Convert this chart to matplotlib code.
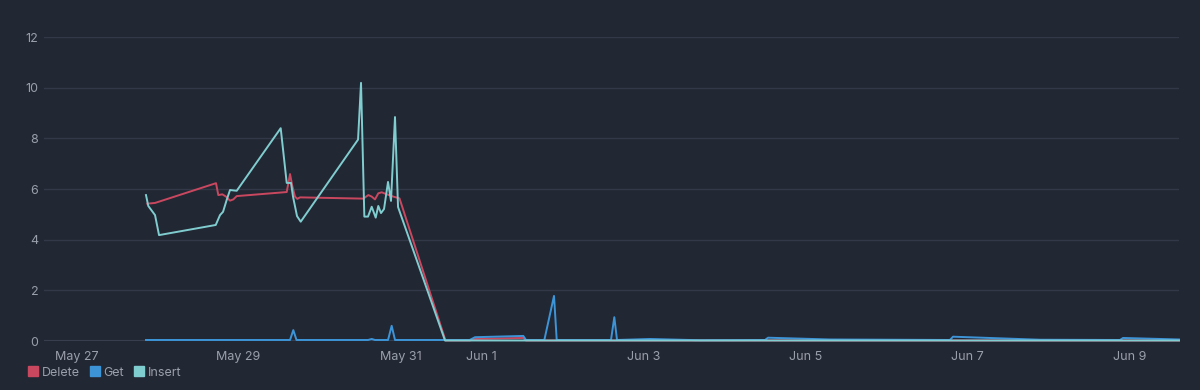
import matplotlib.pyplot as plt
import pandas as pd
from matplotlib.lines import Line2D

# --- data ---
insert_times = [
    "2023-05-27 20:35", "2023-05-27 21:16", "2023-05-27 23:16", "2023-05-28 00:27",
    "2023-05-28 17:15", "2023-05-28 18:31", "2023-05-28 19:25", "2023-05-28 20:30",
    "2023-05-28 21:29", "2023-05-28 23:28", "2023-05-29 12:30", "2023-05-29 14:17",
    "2023-05-29 15:33", "2023-05-29 16:09", "2023-05-29 17:20", "2023-05-29 18:26",
    "2023-05-30 11:25", "2023-05-30 12:18", "2023-05-30 13:17", "2023-05-30 14:22",
    "2023-05-30 15:28", "2023-05-30 16:39", "2023-05-30 17:25", "2023-05-30 18:13",
    "2023-05-30 19:07", "2023-05-30 20:18", "2023-05-30 21:11", "2023-05-30 22:22",
    "2023-05-30 23:16", "2023-05-31 13:11", "2023-06-02 12:00", "2023-06-05 12:00",
    "2023-06-09 14:40",
]
insert_values = [
    5.76, 5.33, 4.97, 4.18,
    4.58, 4.97, 5.10, 5.57,
    5.96, 5.93, 8.40, 6.24,
    6.24, 5.70, 4.93, 4.71,
    7.95, 10.19, 4.91, 4.91,
    5.30, 4.87, 5.33, 5.05,
    5.21, 6.28, 5.53, 8.84,
    5.29, 0.02, 0.02, 0.02,
    0.02,
]

delete_times = [
    "2023-05-27 21:00", "2023-05-27 23:16", "2023-05-28 17:20", "2023-05-28 18:01",
    "2023-05-28 19:12", "2023-05-28 20:18", "2023-05-28 21:29", "2023-05-28 22:28",
    "2023-05-28 23:28", "2023-05-29 14:17", "2023-05-29 15:16", "2023-05-29 15:56",
    "2023-05-29 16:44", "2023-05-29 17:25", "2023-05-29 18:13", "2023-05-30 12:59",
    "2023-05-30 14:28", "2023-05-30 15:28", "2023-05-30 16:26", "2023-05-30 17:25",
    "2023-05-30 18:26", "2023-05-30 19:55", "2023-05-30 21:52", "2023-05-30 23:42",
    "2023-05-31 13:20", "2023-05-31 20:30", "2023-05-31 22:05", "2023-06-01 12:23",
    "2023-06-01 13:11", "2023-06-09 14:40",
]
delete_values = [
    5.42, 5.45, 6.23, 5.76,
    5.79, 5.70, 5.54, 5.59,
    5.72, 5.88, 6.59, 6.12,
    5.70, 5.61, 5.67, 5.62,
    5.76, 5.70, 5.59, 5.83,
    5.87, 5.79, 5.70, 5.63,
    0.02, 0.02, 0.08, 0.12,
    0.02, 0.02,
]

get_times = [
    "2023-05-27 20:35", "2023-05-29 15:16", "2023-05-29 16:14", "2023-05-29 17:11",
    "2023-05-30 14:22", "2023-05-30 15:28", "2023-05-30 16:26", "2023-05-30 20:18",
    "2023-05-30 21:23", "2023-05-30 22:22", "2023-05-31 20:30", "2023-05-31 22:05",
    "2023-06-01 12:23", "2023-06-01 13:11", "2023-06-01 18:37", "2023-06-01 21:29",
    "2023-06-01 22:17", "2023-06-02 14:22", "2023-06-02 15:21", "2023-06-02 16:09",
    "2023-06-03 01:56", "2023-06-03 16:44", "2023-06-04 12:00", "2023-06-04 12:54",
    "2023-06-05 07:16", "2023-06-06 18:48", "2023-06-06 19:42", "2023-06-07 21:30",
    "2023-06-08 21:11", "2023-06-08 22:05", "2023-06-09 14:40",
]
get_values = [
    0.04, 0.04, 0.43, 0.04,
    0.04, 0.08, 0.04, 0.04,
    0.60, 0.04, 0.04, 0.15,
    0.20, 0.04, 0.04, 1.78,
    0.04, 0.04, 0.94, 0.04,
    0.08, 0.03, 0.04, 0.13,
    0.06, 0.04, 0.17, 0.05,
    0.04, 0.12, 0.06,
]

tick_dates = ["2023-05-27", "2023-05-29", "2023-05-31", "2023-06-01",
              "2023-06-03", "2023-06-05", "2023-06-07", "2023-06-09"]
tick_labels = ["May 27", "May 29", "May 31", "Jun 1", "Jun 3", "Jun 5", "Jun 7", "Jun 9"]
y_ticks = [0, 2, 4, 6, 8, 10, 12]

BG = "#222734"
GRID = "#323847"
TEXT = "#9aa0ab"
RED = "#c9485f"
BLUE = "#3d95d8"
TEAL = "#80cdd0"

plt.rcParams["font.family"] = ["Inter", "DejaVu Sans"]

fig = plt.figure(figsize=(12, 3.9), dpi=100, facecolor=BG)
ax = fig.add_axes([44 / 1200, 49 / 390, (1179 - 44) / 1200, 304 / 390])
ax.set_facecolor(BG)

series = [
    ("Delete", delete_times, delete_values, RED),
    ("Get", get_times, get_values, BLUE),
    ("Insert", insert_times, insert_values, TEAL),
]
for name, times, values, color in series:
    ax.plot(pd.to_datetime(times), values, color=color, lw=1.4, clip_on=False,
            solid_joinstyle="round", zorder=3)

ax.set_xlim(pd.Timestamp("2023-05-26 14:22"), pd.Timestamp("2023-06-09 14:40"))
ax.set_ylim(0, 12)
ax.set_yticks(y_ticks)
ax.set_xticks(pd.to_datetime(tick_dates))
ax.set_xticklabels(tick_labels)

ax.grid(axis="y", color=GRID, lw=1)
ax.axhline(0, color="#3a4050", lw=1.5, zorder=1)
for s in ax.spines.values():
    s.set_visible(False)
ax.tick_params(axis="both", length=0, colors=TEXT, labelsize=9)
ax.tick_params(axis="y", pad=4)
ax.tick_params(axis="x", pad=7)

handles = [Line2D([], [], marker="s", ls="none", color=c, markersize=7, label=n)
           for n, _, _, c in series]
leg = fig.legend(handles=handles, loc="lower left", bbox_to_anchor=(0.012, 0.0),
                 ncol=3, frameon=False, fontsize=9, handletextpad=0.1,
                 columnspacing=0.6, handlelength=1.2)
for t in leg.get_texts():
    t.set_color(TEXT)

fig.savefig("out.png", dpi=100, facecolor=BG)
